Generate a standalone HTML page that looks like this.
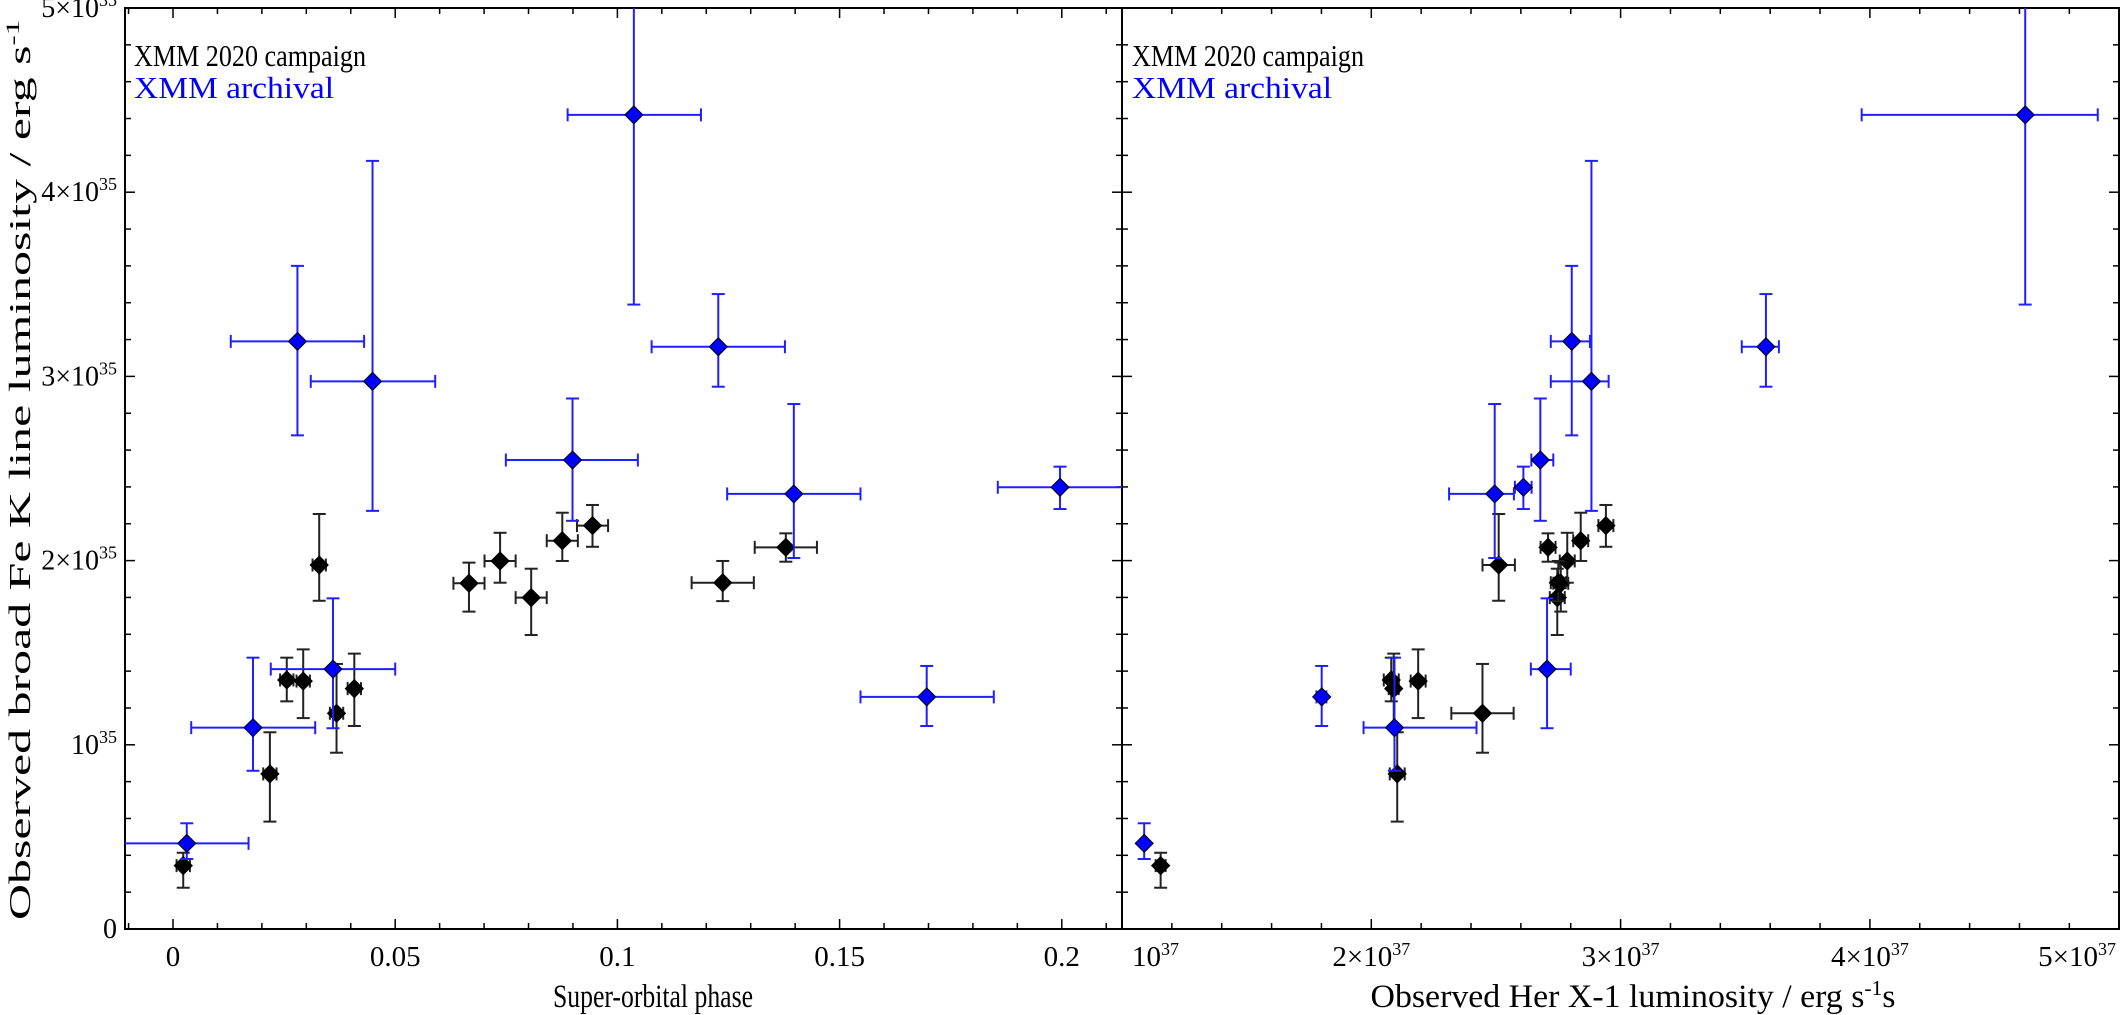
<!DOCTYPE html>
<html><head><meta charset="utf-8"><style>
html,body{margin:0;padding:0;background:#fff;}
svg{display:block;font-family:"Liberation Serif",serif;}
</style></head><body>
<svg id="chart" xmlns="http://www.w3.org/2000/svg" width="2128" height="1015" viewBox="0 0 2128 1015">
<defs>
<clipPath id="clipL"><rect x="125" y="8" width="997" height="921"/></clipPath>
<clipPath id="clipR"><rect x="1122" y="8" width="997" height="921"/></clipPath>
</defs>
<g id="axes"></g>
<g id="marksL" clip-path="url(#clipL)"></g>
<g id="marksR" clip-path="url(#clipR)"></g>
<text x="134" y="66" font-size="31" fill="#000" textLength="232" lengthAdjust="spacingAndGlyphs">XMM 2020 campaign</text>
<text x="134" y="98" font-size="31" fill="#0000ff" textLength="200" lengthAdjust="spacingAndGlyphs">XMM archival</text>
<text x="1132" y="66" font-size="31" fill="#000" textLength="232" lengthAdjust="spacingAndGlyphs">XMM 2020 campaign</text>
<text x="1132" y="98" font-size="31" fill="#0000ff" textLength="200" lengthAdjust="spacingAndGlyphs">XMM archival</text>
<text transform="translate(30,470) rotate(-90)" text-anchor="middle" font-size="31" textLength="900" lengthAdjust="spacingAndGlyphs">Observed broad Fe K line luminosity / erg s<tspan dy="-11" font-size="19">-1</tspan></text>
<text x="653" y="1007" text-anchor="middle" font-size="33" textLength="200" lengthAdjust="spacingAndGlyphs">Super-orbital phase</text>
<text x="1633" y="1007" text-anchor="middle" font-size="33" textLength="525" lengthAdjust="spacingAndGlyphs">Observed Her X-1 luminosity / erg s<tspan dy="-12" font-size="21">-1</tspan><tspan dy="12">s</tspan></text>
</svg>
<script>
// ---- data (luminosity in 1e35 erg/s, Lx in 1e37 erg/s) ----
const blackPhase   = [0.0023,0.0218,0.0256,0.0293,0.0329,0.0368,0.0408,0.0666,0.0736,0.0806,0.0876,0.0944,0.1237,0.1379];
const blackPhaseErr= [0.0015,0.0015,0.0015,0.0015,0.0015,0.0015,0.0015,0.0035,0.0035,0.0035,0.0035,0.0035,0.007,0.007];
const blackLum     = [0.344,0.842,1.352,1.346,1.976,1.171,1.305,1.877,1.998,1.799,2.108,2.19,1.88,2.072];
const blackLumHi   = [0.414,1.068,1.473,1.518,2.253,1.439,1.495,1.989,2.151,1.956,2.26,2.302,1.998,2.148];
const blackLumLo   = [0.224,0.583,1.236,1.145,1.782,0.957,1.102,1.723,1.88,1.596,1.998,2.075,1.78,1.994];
const blackLx      = [1.155,2.104,2.08,2.188,2.511,2.446,2.09,2.76,2.786,2.746,2.84,2.941,2.75,2.709];
const blackLxErr   = [0.02,0.03,0.03,0.03,0.065,0.125,0.02,0.03,0.03,0.03,0.03,0.03,0.03,0.03];

const bluePhase    = [0.0031,0.018,0.036,0.028,0.0449,0.0899,0.1037,0.1227,0.1397,0.1996,0.1696];
const bluePhaseLo  = [-0.011,0.0041,0.022,0.013,0.031,0.0749,0.0888,0.1077,0.1247,0.1856,0.1547];
const bluePhaseHi  = [0.017,0.032,0.05,0.043,0.059,0.1046,0.1188,0.1377,0.1547,0.2300,0.1847];
const blueLum      = [0.465,1.093,1.411,3.19,2.973,2.546,4.42,3.161,2.362,2.398,1.26];
const blueLumLo    = [0.38,0.859,1.09,2.68,2.27,2.216,3.39,2.944,2.014,2.28,1.102];
const blueLumHi    = [0.574,1.473,1.795,3.60,4.17,2.88,5.6,3.447,2.85,2.51,1.428];
const blueLx       = [1.089,2.093,2.705,2.804,2.883,2.678,4.623,3.583,2.495,2.61,1.801];
const blueLxLo     = [1.079,1.969,2.64,2.72,2.72,2.642,3.967,3.486,2.312,2.576,1.78];
const blueLxHi     = [1.099,2.422,2.80,2.877,2.952,2.73,4.914,3.635,2.572,2.643,1.82];

const yTicks = [0,1,2,3,4,5];
const phaseTicks = [0,0.05,0.1,0.15,0.2];
const phaseTickLabels = ["0","0.05","0.1","0.15","0.2"];
const lxTicks = [1,2,3,4,5];

// ---- scales ----
const PT=8, PB=929, LL=125, MID=1122, RR=2119;
function yS(v){return 929 - v*184.2;}
function xL(v){return 173 + v*4444;}
function xR(v){return 1122 + (v-1)*249.3;}
const NS="http://www.w3.org/2000/svg";
function mk(tag, attrs, parent){const e=document.createElementNS(NS,tag);for(const k in attrs)e.setAttribute(k,attrs[k]);parent.appendChild(e);return e;}
const axes=document.getElementById('axes');

const f1=mk('rect',{x:LL,y:PT,width:MID-LL,height:PB-PT,fill:'none',stroke:'#000','stroke-width':2},axes);


const f2=mk('rect',{x:MID,y:PT,width:RR-MID,height:PB-PT,fill:'none',stroke:'#000','stroke-width':2},axes);



for(let i=0;i<=25;i++){
  const v=i*0.2, y=yS(v), major=(i%5===0), len=major?10:6;
  [[LL,1],[MID,-1],[MID,1],[RR,-1]].forEach(([x,d])=>{
    const t=mk('line',{x1:x,x2:x+d*len,y1:y,y2:y,stroke:'#000','stroke-width':1.5},axes);
    
    
  });
}
yTicks.forEach(v=>{
  const t=mk('text',{x:117,y:yS(v)+9,'text-anchor':'end','font-size':28},axes);
  
  
  if(v===0){t.textContent='0';}
  else{
    if(v!==1){t.appendChild(document.createTextNode(v+'×10'));} else {t.appendChild(document.createTextNode('10'));}
    const s=mk('tspan',{dy:-11,'font-size':18},t); s.textContent='35';
  }
});
for(let i=-1;i<=21;i++){
  const v=i*0.01, x=xL(v); if(x<LL||x>MID) continue;
  const major=(i%5===0), len=major?10:6;
  [[PB,-1],[PT,1]].forEach(([y,d])=>{
    const t=mk('line',{x1:x,x2:x,y1:y,y2:y+d*len,stroke:'#000','stroke-width':1.5},axes);
    
    
  });
}
phaseTicks.forEach((v,i)=>{
  const t=mk('text',{x:xL(v),y:966,'text-anchor':'middle','font-size':29},axes);
  
  
  t.textContent=phaseTickLabels[i];
});
for(let i=0;i<=20;i++){
  const v=1+i*0.2, x=xR(v);
  const major=(i%5===0), len=major?10:6;
  [[PB,-1],[PT,1]].forEach(([y,d])=>{
    const t=mk('line',{x1:x,x2:x,y1:y,y2:y+d*len,stroke:'#000','stroke-width':1.5},axes);
    
    
  });
}
lxTicks.forEach((v,i)=>{
  let anchor='middle', x=xR(v);
  if(i===0){anchor='start';x=xR(v)+10;}
  if(i===lxTicks.length-1){anchor='end';x=2116;}
  const t=mk('text',{x:x,y:966,'text-anchor':anchor,'font-size':29},axes);
  
  
  t.appendChild(document.createTextNode(v===1?'10':v+'×10'));
  const s=mk('tspan',{dy:-11,'font-size':18},t); s.textContent='37';
});

function errPoint(g, cx, cy, x0, x1, y0, y1, color, fill, name){
  const grp=mk('g',{},g);
  
  
  const sw=2, cap=6.5;
  mk('line',{x1:x0,x2:x1,y1:cy,y2:cy,stroke:color,'stroke-width':sw},grp);
  mk('line',{x1:x0,x2:x0,y1:cy-cap,y2:cy+cap,stroke:color,'stroke-width':sw},grp);
  mk('line',{x1:x1,x2:x1,y1:cy-cap,y2:cy+cap,stroke:color,'stroke-width':sw},grp);
  mk('line',{x1:cx,x2:cx,y1:y0,y2:y1,stroke:color,'stroke-width':sw},grp);
  mk('line',{x1:cx-cap,x2:cx+cap,y1:y0,y2:y0,stroke:color,'stroke-width':sw},grp);
  mk('line',{x1:cx-cap,x2:cx+cap,y1:y1,y2:y1,stroke:color,'stroke-width':sw},grp);
  const r=9;
  mk('polygon',{points:`${cx},${cy-r} ${cx+r},${cy} ${cx},${cy+r} ${cx-r},${cy}`,fill:fill,stroke:'#000','stroke-width':1},grp);
}
const gL=document.getElementById('marksL'), gR=document.getElementById('marksR');
blackPhase.forEach((p,i)=>{
  errPoint(gL, xL(p), yS(blackLum[i]), xL(p-blackPhaseErr[i]), xL(p+blackPhaseErr[i]), yS(blackLumHi[i]), yS(blackLumLo[i]), '#222', '#000', 'campaign-point-phase');
  errPoint(gR, xR(blackLx[i]), yS(blackLum[i]), xR(blackLx[i]-blackLxErr[i]), xR(blackLx[i]+blackLxErr[i]), yS(blackLumHi[i]), yS(blackLumLo[i]), '#222', '#000', 'campaign-point-lx');
});
bluePhase.forEach((p,i)=>{
  errPoint(gL, xL(p), yS(blueLum[i]), xL(bluePhaseLo[i]), xL(bluePhaseHi[i]), yS(blueLumHi[i]), yS(blueLumLo[i]), '#2020ff', '#0000ff', 'archival-point-phase');
  errPoint(gR, xR(blueLx[i]), yS(blueLum[i]), xR(blueLxLo[i]), xR(blueLxHi[i]), yS(blueLumHi[i]), yS(blueLumLo[i]), '#2020ff', '#0000ff', 'archival-point-lx');
});
</script>
</body></html>
